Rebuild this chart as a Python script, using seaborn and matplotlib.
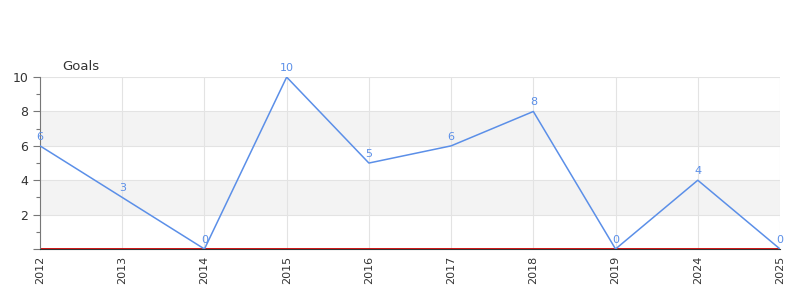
import matplotlib
matplotlib.use("Agg")
import matplotlib.pyplot as plt
import seaborn as sns
import pandas as pd
from matplotlib.ticker import MultipleLocator

years = ["2012", "2013", "2014", "2015", "2016", "2017", "2018", "2019", "2024", "2025"]
goals = [6, 3, 0, 10, 5, 6, 8, 0, 4, 0]

sns.set_style("white")
plt.rcParams['font.family'] = ['DejaVu Sans']

df = pd.DataFrame({"pos": range(len(years)), "goals": goals})

fig = plt.figure(figsize=(8, 3), dpi=100)
ax = fig.add_axes([0.05, 0.17, 0.925, 0.573])

line_color = "#5b8fe8"
for lo, hi in [(2, 4), (6, 8)]:
    ax.axhspan(lo, hi, color="#f3f3f3", zorder=0, lw=0)
for y in [2, 4, 6, 8, 10]:
    ax.axhline(y, color="#e3e3e3", lw=0.8, zorder=0.5)
for x in range(len(years)):
    ax.axvline(x, color="#e3e3e3", lw=0.8, zorder=0.5)

sns.lineplot(data=df, x="pos", y="goals", ax=ax, color=line_color, lw=1.1, zorder=3)
for x, v in zip(df["pos"], df["goals"]):
    ax.annotate(str(v), (x, v), xytext=(0, 3), textcoords="offset points",
                ha="center", va="bottom", fontsize=8, color=line_color, zorder=4)

ax.axhline(0, color="#d40000", lw=1.3, zorder=2)

ax.set_xlim(0, len(years) - 1)
ax.set_ylim(0, 10)
ax.set_xticks(range(len(years)))
ax.set_xticklabels(years, rotation=90, fontsize=8, color="#333333")
ax.set_yticks([0, 2, 4, 6, 8, 10])
ax.set_yticklabels(["", "2", "4", "6", "8", "10"], fontsize=9, color="#333333")
ax.yaxis.set_minor_locator(MultipleLocator(1))
ax.tick_params(axis="y", which="major", length=5, color="#777777", width=0.8, left=True)
ax.tick_params(axis="y", which="minor", length=3, color="#777777", width=0.8, left=True)
ax.tick_params(axis="x", length=0, pad=5)
ax.set_xlabel("")
ax.set_ylabel("")

for s in ["top", "right"]:
    ax.spines[s].set_visible(False)
ax.spines["left"].set_color("#777777")
ax.spines["left"].set_linewidth(0.8)
ax.spines["bottom"].set_color("#333333")
ax.spines["bottom"].set_linewidth(0.8)

fig.text(62 / 800, 1 - 66 / 300, "Goals", fontsize=9.5, color="#333333", ha="left", va="center")

fig.savefig("out.png", dpi=100)
